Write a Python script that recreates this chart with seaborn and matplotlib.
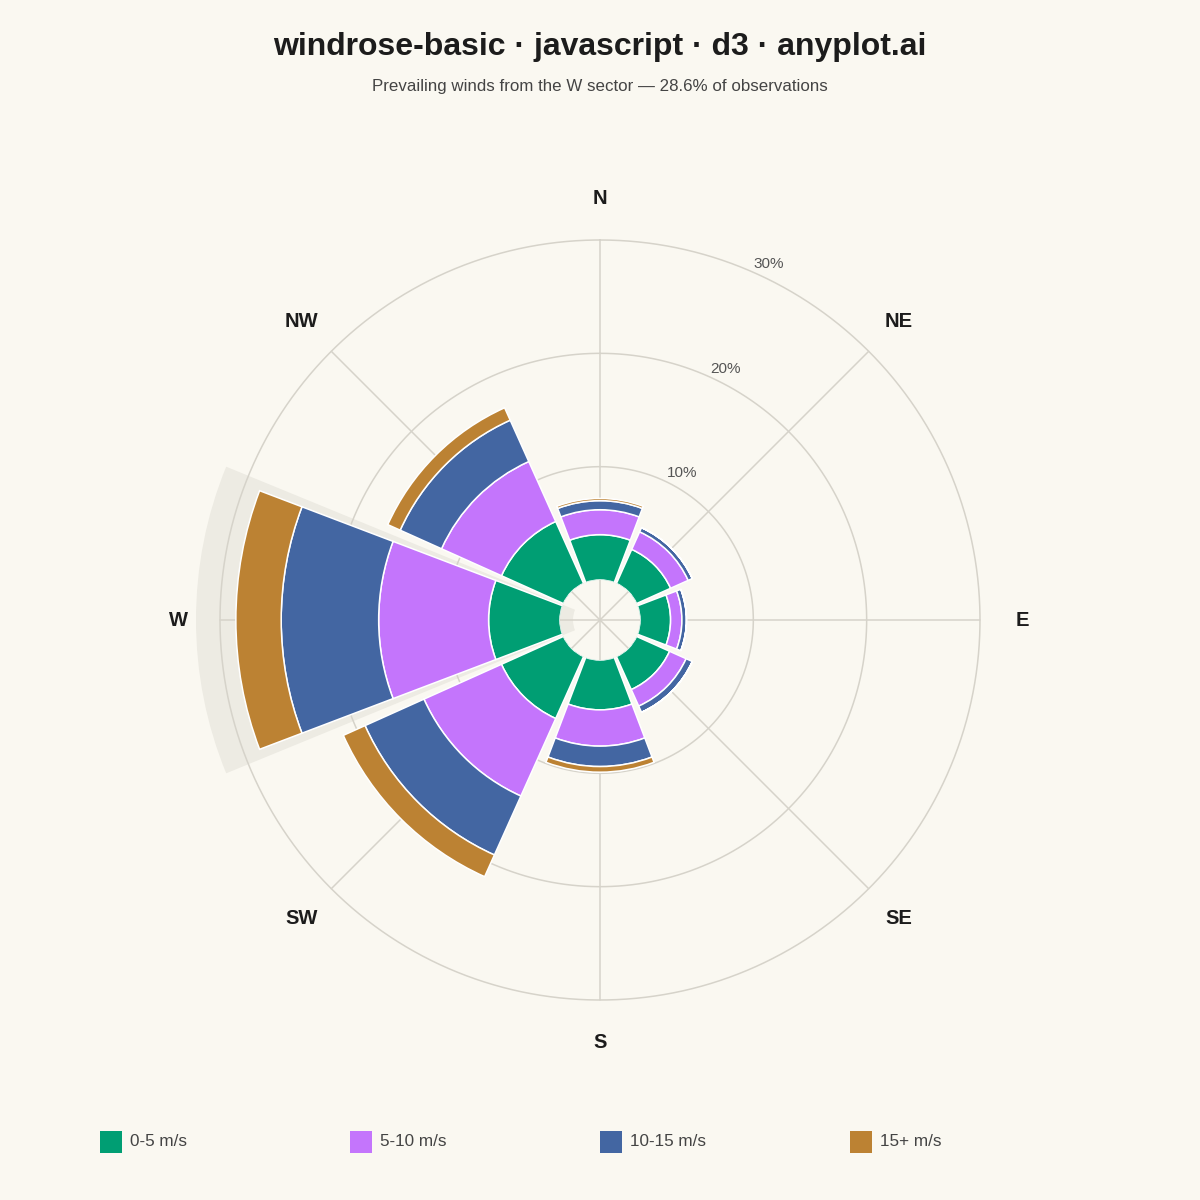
import numpy as np
import matplotlib
matplotlib.use("Agg")
import matplotlib.pyplot as plt
import seaborn as sns
from matplotlib.patches import Rectangle

# ---------------- data ----------------
directions = ["N", "NE", "E", "SE", "S", "SW", "W", "NW"]
speed_bins = ["0-5 m/s", "5-10 m/s", "10-15 m/s", "15+ m/s"]
freq_0_5 = [4.0, 3.3, 2.7, 3.2, 4.4, 6.0, 6.3, 6.0]
freq_5_10 = [2.2, 1.7, 1.0, 1.6, 3.2, 7.5, 9.7, 5.8]
freq_10_15 = [0.8, 0.4, 0.4, 0.6, 1.8, 5.7, 8.6, 4.0]
freq_15_plus = [0.2, 0.0, 0.0, 0.0, 0.5, 2.1, 4.0, 1.2]
radial_ticks = [10, 20, 30]
direction_angles_deg = [0, 45, 90, 135, 180, 225, 270, 315]

# ---------------- style ----------------
BG = "#FAF8F1"
GRID = "#D6D3CA"
HIGHLIGHT = "#EDEBE3"
palette = sns.color_palette(["#009E73", "#C475FC", "#4366A2", "#BC8233"])

sns.set_theme(style="white", rc={"figure.facecolor": BG, "axes.facecolor": BG,
                                 "savefig.facecolor": BG})
plt.rcParams["font.family"] = ["Liberation Sans", "DejaVu Sans"]

series = [freq_0_5, freq_5_10, freq_10_15, freq_15_plus]
totals = np.sum(np.array(series), axis=0)
imax = int(np.argmax(totals))

W = H = 1200
fig = plt.figure(figsize=(12, 12), dpi=100)

R_PX = 380.0
INNER_PX = 40.0
RMAX = radial_ticks[-1]
px_per = (R_PX - INNER_PX) / RMAX
rorigin = -INNER_PX / px_per
cy = 1 - 620 / H
ax = fig.add_axes([0.5 - R_PX / W, cy - R_PX / H, 2 * R_PX / W, 2 * R_PX / H],
                  projection="polar")
ax.set_theta_zero_location("N")
ax.set_theta_direction(-1)
ax.patch.set_alpha(0)

theta = np.deg2rad(direction_angles_deg)
bar_w = np.deg2rad(41.6)

# highlight of prevailing sector
hl_in = (27 - INNER_PX) / px_per
hl_out = (404 - INNER_PX) / px_per
ax.bar(theta[imax], hl_out - hl_in, width=np.deg2rad(44.6), bottom=hl_in,
       color=HIGHLIGHT, linewidth=0, zorder=0.5, clip_on=False)

# grid
th = np.linspace(0, 2 * np.pi, 500)
for t in radial_ticks:
    ax.plot(th, np.full_like(th, t), color=GRID, lw=1.1, zorder=1, clip_on=False)
for a in theta:
    ax.plot([a, a], [rorigin + 1e-6, RMAX], color=GRID, lw=1.1, zorder=1, clip_on=False)

# stacked bars
bottom = np.zeros(len(directions))
for vals, col, lab in zip(series, palette, speed_bins):
    vals = np.array(vals)
    ax.bar(theta, vals, width=bar_w, bottom=bottom, color=col, edgecolor="white",
           linewidth=1.1, zorder=2, label=lab)
    bottom += vals

ax.set_ylim(0, RMAX)
ax.set_rorigin(rorigin)
ax.set_xticks([])
ax.set_yticks([])
ax.grid(False)
for sp in ax.spines.values():
    sp.set_visible(False)
    sp.set_linewidth(0)
    sp.set_edgecolor("none")

# direction labels
lab_r = (422 - INNER_PX) / px_per
for a, d in zip(theta, directions):
    ax.text(a, lab_r, d, ha="center", va="center", fontsize=14.5, fontweight="bold",
            color="#1C1C1C", clip_on=False)

# radial tick labels
for t in radial_ticks:
    ax.annotate(f"{t}%", xy=(np.deg2rad(22.5), t), xytext=(8, 5),
                textcoords="offset pixels", ha="left", va="center",
                fontsize=11, color="#555555", annotation_clip=False)

# titles
fig.text(0.5, 1 - 47 / H, "windrose-basic · javascript · d3 · anyplot.ai",
         ha="center", va="center", fontsize=23, fontweight="bold", color="#1C1C1C")
fig.text(0.5, 1 - 86 / H,
         f"Prevailing winds from the {directions[imax]} sector — {totals[imax]:.1f}% of observations",
         ha="center", va="center", fontsize=12.2, color="#444444")

# legend
for i, (lab, col) in enumerate(zip(speed_bins, palette)):
    x0 = 100 + 250 * i
    fig.add_artist(Rectangle((x0 / W, 1 - 1153 / H), 22 / W, 22 / H,
                             transform=fig.transFigure, color=col, linewidth=0))
    fig.text((x0 + 30) / W, 1 - 1142 / H, lab, ha="left", va="center",
             fontsize=12.3, color="#444444")

fig.savefig("out.png", dpi=100)
